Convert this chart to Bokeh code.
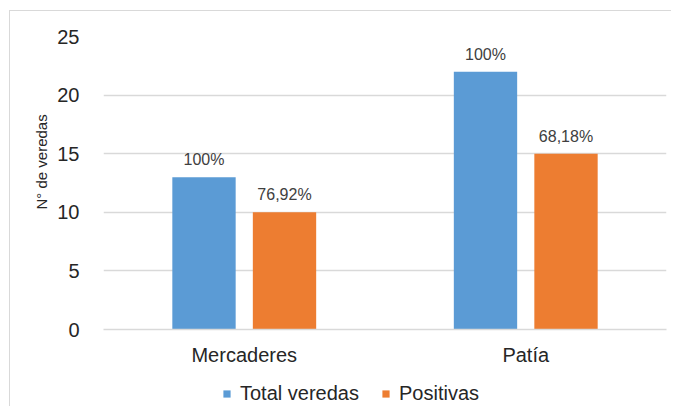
from bokeh.plotting import figure
from bokeh.layouts import column
from bokeh.models import (ColumnDataSource, FactorRange, Range1d, Legend, LegendItem,
                          LabelSet, SingleIntervalTicker, Title)
from bokeh.core.properties import value
from bokeh.transform import dodge
from bokeh.embed import file_html
from bokeh.resources import INLINE

municipios = ["Mercaderes", "Patía"]
series_names = ["Total veredas", "Positivas"]
series_colors = ["#5B9BD5", "#ED7D31"]
total_veredas = [13, 22]
positivas = [10, 15]
total_labels = ["100%", "100%"]
positivas_labels = ["76,92%", "68,18%"]

src = ColumnDataSource(dict(mun=municipios, total=total_veredas, pos=positivas,
                            tl=total_labels, pl=positivas_labels))

p = figure(x_range=FactorRange(*municipios, range_padding=0), y_range=Range1d(0, 25),
           width=661, height=360, output_backend="svg", toolbar_location=None,
           min_border_left=93, min_border_right=5, min_border_top=25, min_border_bottom=10)
p.frame_width = 563
p.frame_height = 293

W = 0.225
OFF = 0.143
p.vbar(x=dodge("mun", -OFF, range=p.x_range), top="total", width=W, source=src,
       fill_color=series_colors[0], line_color=None)
p.vbar(x=dodge("mun", OFF, range=p.x_range), top="pos", width=W, source=src,
       fill_color=series_colors[1], line_color=None)

for col, lcol, off in (("total", "tl", -OFF), ("pos", "pl", OFF)):
    ls = LabelSet(x=dodge("mun", off, range=p.x_range), y=col, text=lcol, source=src,
                  text_align="center", text_baseline="alphabetic", y_offset=12,
                  text_font=value("Liberation Sans"), text_font_size=value("16px"),
                  text_color=value("#404040"))
    p.add_layout(ls)

# axes
p.yaxis.ticker = SingleIntervalTicker(interval=5)
p.yaxis.axis_line_color = None
p.yaxis.major_tick_line_color = None
p.yaxis.minor_tick_line_color = None
p.yaxis.major_label_standoff = 18
p.yaxis.major_label_text_font = "Liberation Sans"
p.yaxis.major_label_text_font_size = "20px"
p.yaxis.major_label_text_color = "#262626"

ytitle = Title(text="N° de veredas", align="left", offset=120, standoff=9,
               text_font="Liberation Sans", text_font_style="normal",
               text_font_size="15px", text_color="#262626")
p.add_layout(ytitle, "left")

p.xaxis.axis_line_color = "#D9D9D9"
p.xaxis.axis_line_width = 1.5
p.xaxis.major_tick_line_color = None
p.xaxis.minor_tick_line_color = None
p.xaxis.major_label_standoff = 8
p.xaxis.major_label_text_font = "Liberation Sans"
p.xaxis.major_label_text_font_size = "20px"
p.xaxis.major_label_text_color = "#262626"

p.xgrid.grid_line_color = None
p.ygrid.grid_line_color = "#D9D9D9"
p.ygrid.grid_line_width = 1.5
p.outline_line_color = None

# legend strip below the chart (its bars lie outside its visible y-range)
leg = figure(width=661, height=38, x_range=FactorRange(*municipios), y_range=Range1d(100, 101),
             output_backend="svg", toolbar_location=None,
             min_border=0, min_border_left=0, min_border_right=0,
             min_border_top=0, min_border_bottom=0)
leg.axis.visible = False
leg.grid.visible = False
leg.outline_line_color = None
lr = [leg.vbar(x="mun", top=col, width=0.2, source=src, fill_color=c, line_color=None)
      for col, c in zip(["total", "pos"], series_colors)]
legend = Legend(items=[LegendItem(label=n, renderers=[r]) for n, r in zip(series_names, lr)],
                orientation="horizontal", location=(119, 1),
                label_text_font="Liberation Sans", label_text_font_size="20px",
                label_text_color="#262626", glyph_width=9, glyph_height=9,
                label_standoff=9, spacing=22, padding=0, margin=0,
                border_line_color=None, background_fill_alpha=0)
leg.add_layout(legend, "center")

layout = column(p, leg, spacing=0)
layout.styles = {"margin-left": "9px", "margin-top": "10px",
                 "border-left": "1.5px solid #D9D9D9", "border-top": "1.5px solid #D9D9D9"}

open("out.html", "w").write(file_html(layout, INLINE))
